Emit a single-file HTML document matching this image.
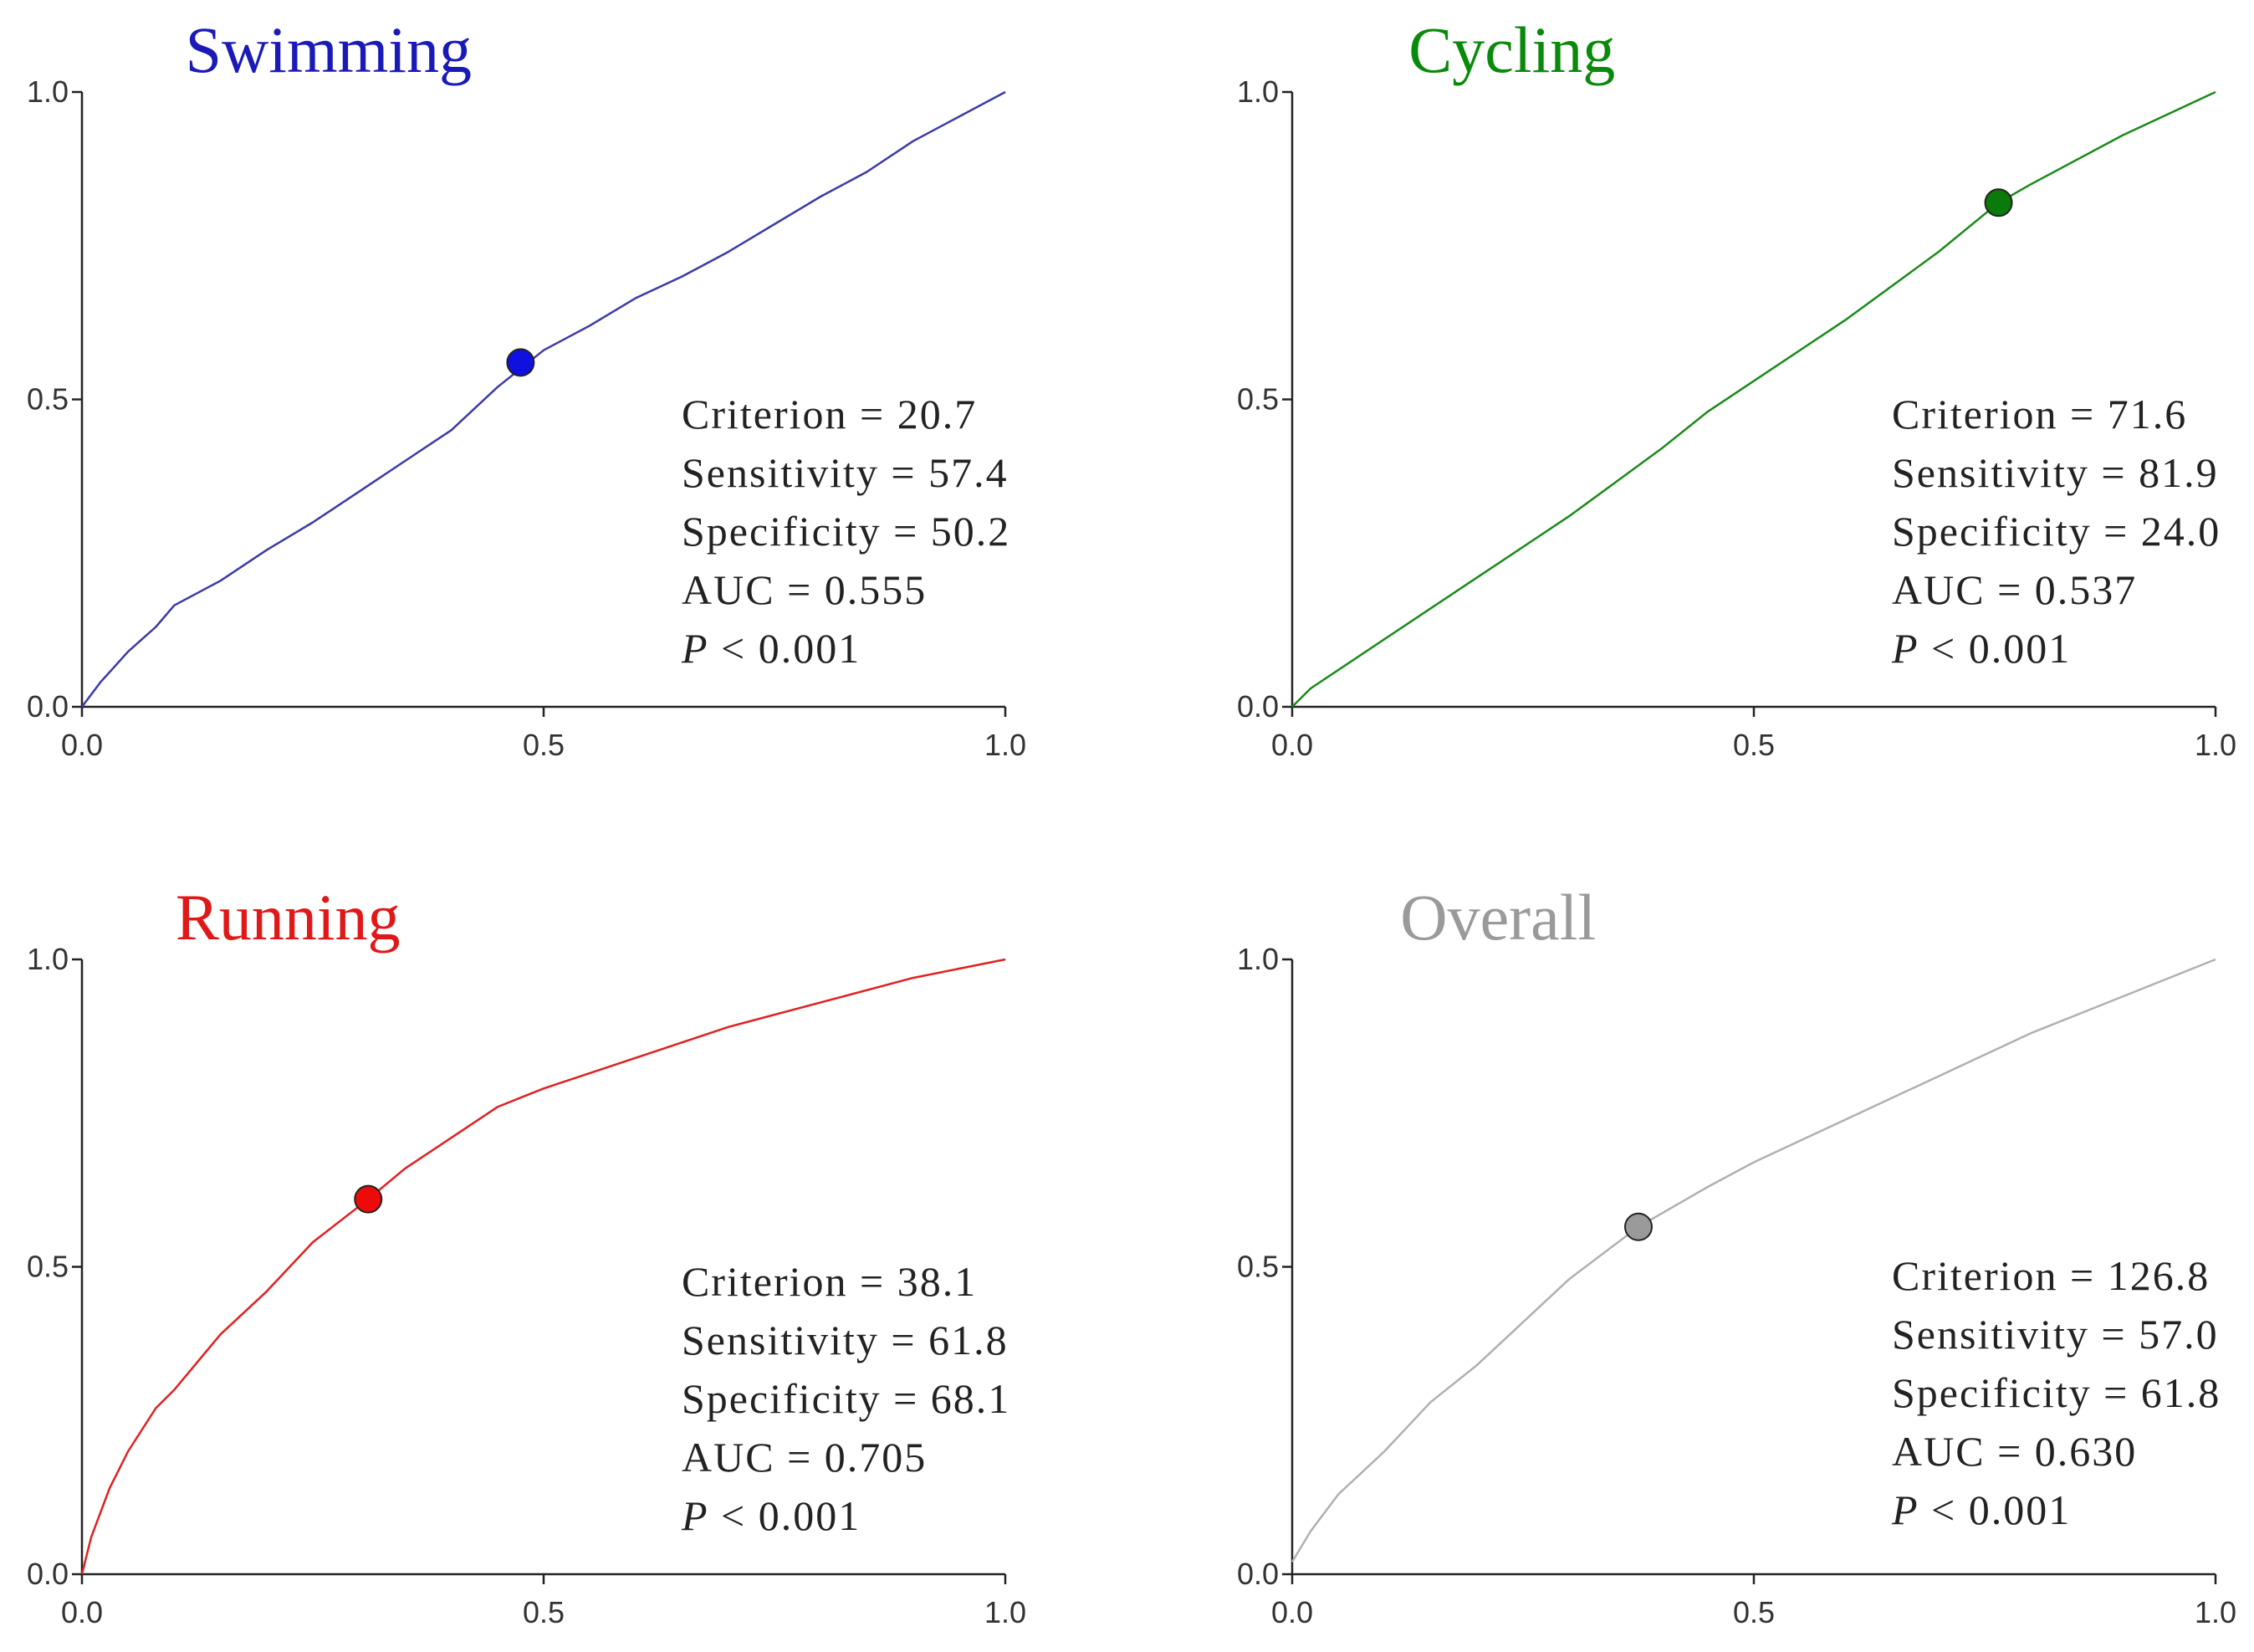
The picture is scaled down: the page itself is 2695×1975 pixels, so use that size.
<!DOCTYPE html>
<html><head><meta charset="utf-8"><style>
html,body{margin:0;padding:0;background:#fff;}
svg{display:block;}
</style></head><body>
<svg id="fig" width="2695" height="1975" viewBox="0 0 2695 1975" xmlns="http://www.w3.org/2000/svg"></svg>
<script>
const panelNames = ["swimming","cycling","running","overall"];
const panelTitles = ["Swimming","Cycling","Running","Overall"];
const swimX = [0,0.02,0.05,0.08,0.1,0.15,0.2,0.25,0.3,0.35,0.4,0.45,0.5,0.55,0.6,0.65,0.7,0.75,0.8,0.85,0.9,0.95,1.0];
const swimY = [0,0.04,0.09,0.13,0.165,0.205,0.255,0.30,0.35,0.40,0.45,0.52,0.58,0.62,0.665,0.70,0.74,0.785,0.83,0.87,0.92,0.96,1.0];
const cycX = [0,0.02,0.05,0.1,0.2,0.3,0.4,0.45,0.5,0.6,0.7,0.765,0.8,0.9,1.0];
const cycY = [0,0.03,0.06,0.11,0.21,0.31,0.42,0.48,0.53,0.63,0.74,0.82,0.85,0.93,1.0];
const runX = [0,0.01,0.03,0.05,0.08,0.1,0.15,0.2,0.25,0.31,0.35,0.4,0.45,0.5,0.6,0.7,0.8,0.9,1.0];
const runY = [0,0.06,0.14,0.20,0.27,0.30,0.39,0.46,0.54,0.61,0.66,0.71,0.76,0.79,0.84,0.89,0.93,0.97,1.0];
const allX = [0,0.02,0.05,0.1,0.15,0.2,0.25,0.3,0.375,0.45,0.5,0.6,0.7,0.8,0.9,1.0];
const allY = [0.02,0.07,0.13,0.20,0.28,0.34,0.41,0.48,0.565,0.63,0.67,0.74,0.81,0.88,0.94,1.0];
const cutX = [0.475,0.765,0.31,0.375];
const cutY = [0.56,0.82,0.61,0.565];
const criterion = ["20.7","71.6","38.1","126.8"];
const sensitivity = ["57.4","81.9","61.8","57.0"];
const specificity = ["50.2","24.0","68.1","61.8"];
const auc = ["0.555","0.537","0.705","0.630"];
const tickVals = [0,0.5,1];
const tickLabels = ["0.0","0.5","1.0"];

const seriesX=[swimX,cycX,runX,allX], seriesY=[swimY,cycY,runY,allY];
const lineCol=["#3a3aa8","#1a8a1a","#e02020","#b0b0b0"];
const dotCol=["#1010e0","#0a7a0a","#ee0a0a","#9a9a9a"];
const titleCol=["#1a1ab8","#0a8a0a","#e01818","#9a9a9a"];
const titlePos=[0.267,0.238,0.223,0.223];
const ox=[98,1545,98,1545], oy=[845,845,1882,1882];
const W=1104, H=735;
const NS="http://www.w3.org/2000/svg";
const svg=document.getElementById('fig');
function mk(t,a,p){const e=document.createElementNS(NS,t);for(const k in a)e.setAttribute(k,a[k]);(p||svg).appendChild(e);return e;}
for(let i=0;i<4;i++){
  const sx=v=>ox[i]+v*W, sy=v=>oy[i]-v*H;
  const g=mk('g',{});
  
  
  const t=mk('text',{x:sx(titlePos[i]),y:oy[i]-H-24,'text-anchor':'middle','font-family':'Liberation Serif, serif','font-size':78,fill:titleCol[i]},g);
  t.textContent=panelTitles[i];
  
  
  const ax=mk('path',{d:`M${sx(0)},${sy(1)}V${sy(0)}H${sx(1)}`,fill:'none',stroke:'#222','stroke-width':2.5},g);
  
  
  tickVals.forEach((v,j)=>{
    mk('line',{x1:sx(0)-12,x2:sx(0),y1:sy(v),y2:sy(v),stroke:'#222','stroke-width':2.5},g);
    const yl=mk('text',{x:sx(0)-16,y:sy(v)+12,'text-anchor':'end','font-family':'Liberation Sans, sans-serif','font-size':36,fill:'#333'},g);
    yl.textContent=tickLabels[j];
    
    
    mk('line',{x1:sx(v),x2:sx(v),y1:sy(0),y2:sy(0)+12,stroke:'#222','stroke-width':2.5},g);
    const xl=mk('text',{x:sx(v),y:sy(0)+58,'text-anchor':'middle','font-family':'Liberation Sans, sans-serif','font-size':36,fill:'#333'},g);
    xl.textContent=tickLabels[j];
    
    
  });
  const xs=seriesX[i], ys=seriesY[i];
  const d=xs.map((x,k)=>(k?'L':'M')+sx(x).toFixed(1)+','+sy(ys[k]).toFixed(1)).join('');
  const ln=mk('path',{d:d,fill:'none',stroke:lineCol[i],'stroke-width':2.5,'stroke-linejoin':'round'},g);
  
  
  const c=mk('circle',{cx:sx(cutX[i]),cy:sy(cutY[i]),r:16,fill:dotCol[i],stroke:'#222','stroke-width':2},g);
  
  
  const lines=["Criterion = "+criterion[i],"Sensitivity = "+sensitivity[i],"Specificity = "+specificity[i],"AUC = "+auc[i]];
  const tx=ox[i]+717, ty0=oy[i]-(i==3?340:333);
  lines.forEach((s,k)=>{
    const a=mk('text',{x:tx,y:ty0+k*70,'font-family':'Liberation Serif, serif','font-size':50,'letter-spacing':2,fill:'#222'},g);
    a.textContent=s;
    
    
  });
  const p=mk('text',{x:tx,y:ty0+4*70,'font-family':'Liberation Serif, serif','font-size':50,'letter-spacing':2,fill:'#222'},g);
  p.innerHTML='<tspan font-style="italic">P</tspan> &lt; 0.001';
  
  
}
</script>
</body></html>
